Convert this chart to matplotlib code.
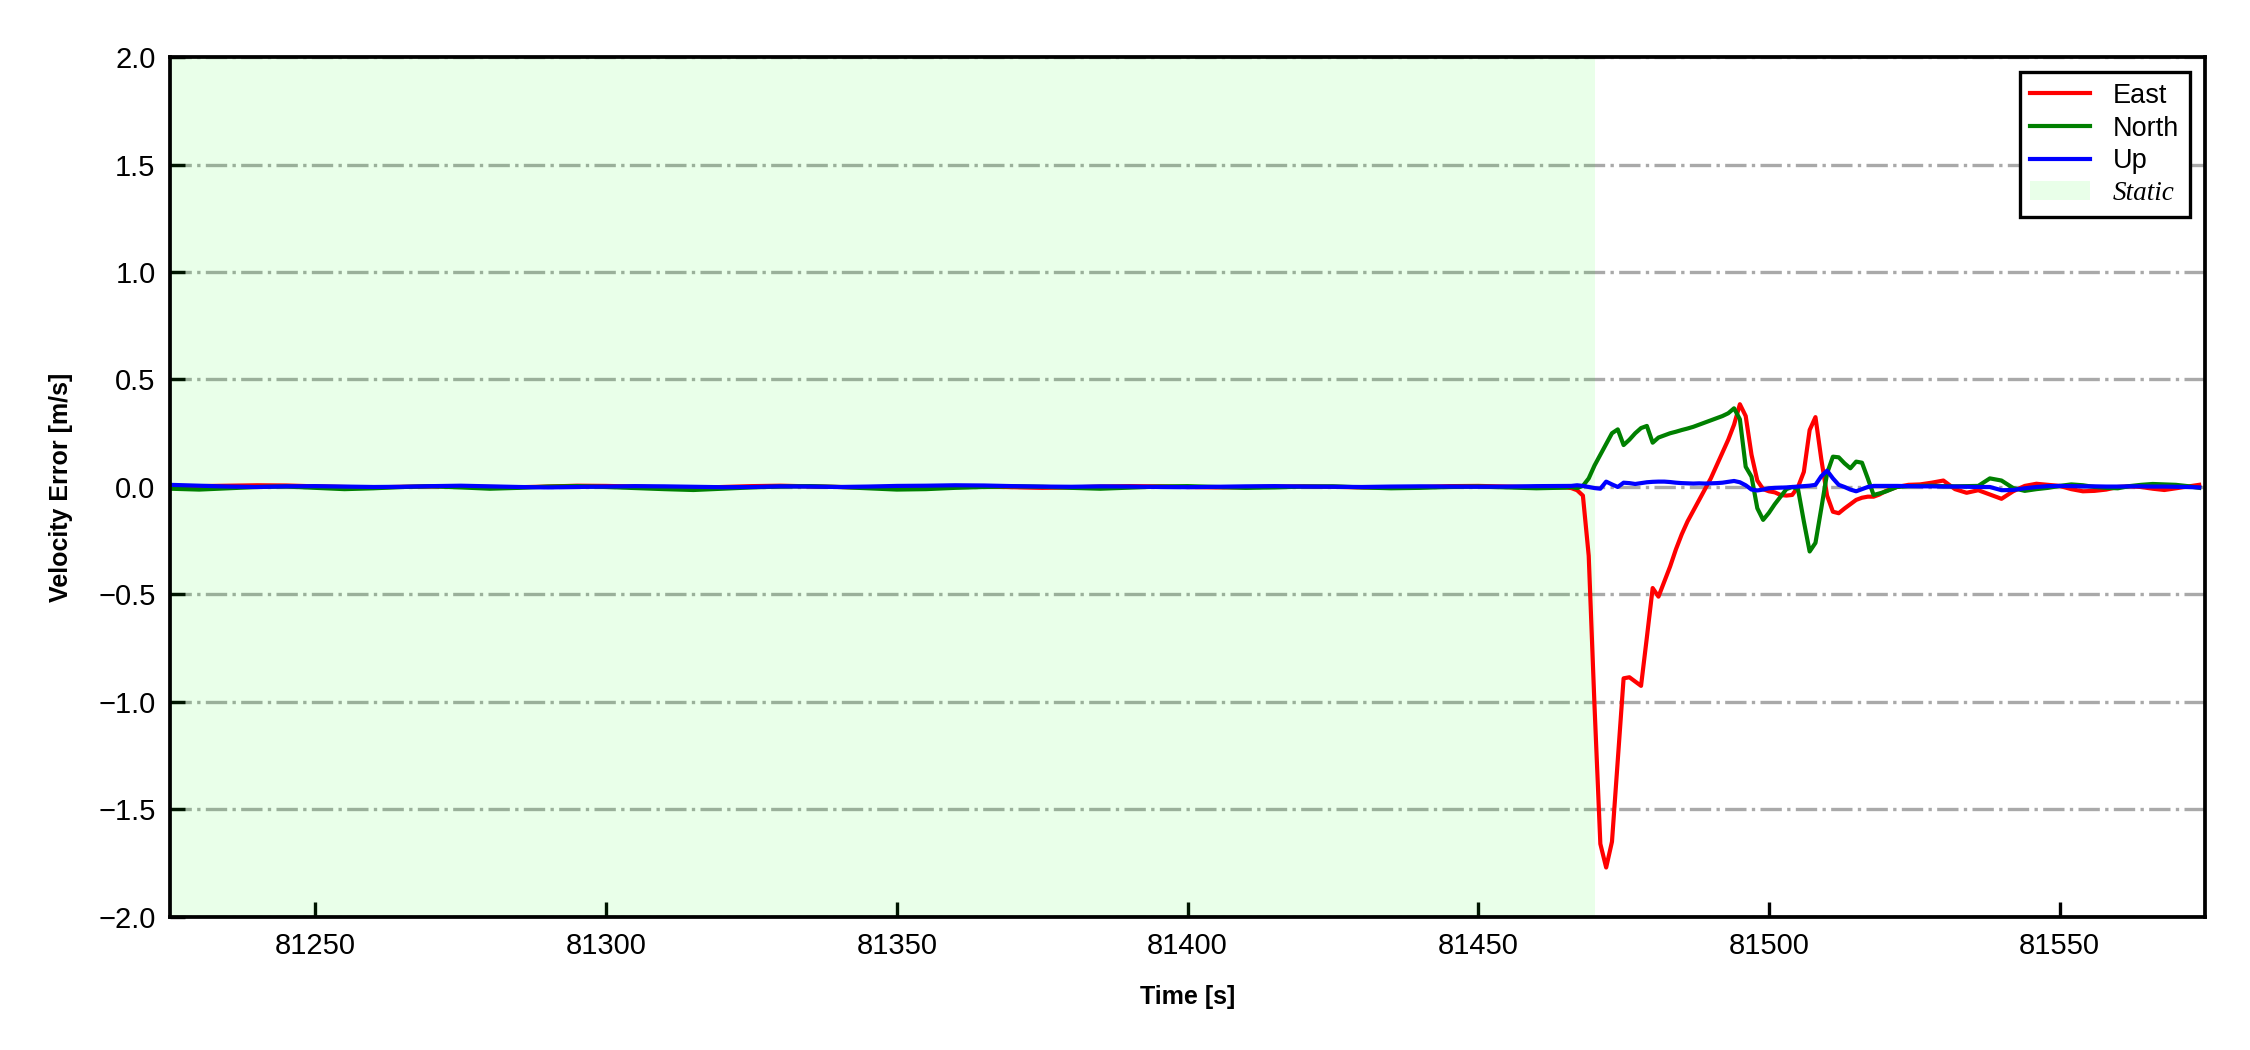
"""
Velocity error plot (East / North / Up) with static interval shading.
Output: out.png
"""

import numpy as np
import matplotlib
matplotlib.use("Agg")
import matplotlib.pyplot as plt

plt.rcParams["font.family"] = ["Liberation Sans", "DejaVu Sans"]

# sample times: static part every 5 s, manoeuvre every 1 s, tail every 2 s
t_static = list(range(81225, 81466, 5))
t_move = list(range(81466, 81521))
t_tail = list(range(81522, 81576, 2))
STATIC_END = 81470

east_static = [0.002, 0.004, 0.006, 0.008, 0.007, 0.003, 0.0,
               -0.002, 0.001, 0.003, 0.002, 0.0, -0.001, 0.002,
               0.006, 0.005, 0.002, -0.002, -0.004, 0.0, 0.004,
               0.006, 0.003, 0.0, -0.003, -0.002, 0.001, 0.003,
               0.002, -0.001, -0.004, -0.002, 0.002, 0.004, 0.003,
               0.0, -0.002, -0.001, 0.002, 0.003, 0.001, -0.002,
               -0.003, 0.0, 0.004, 0.005, 0.002, -0.001, -0.002]
north_static = [-0.008, -0.012, -0.006, 0.0, 0.002, -0.004, -0.010,
                -0.006, 0.0, 0.003, -0.002, -0.008, -0.004, 0.002,
                0.004, 0.0, -0.005, -0.010, -0.014, -0.008, -0.002,
                0.002, 0.004, 0.0, -0.006, -0.012, -0.010, -0.004,
                0.0, 0.003, 0.001, -0.004, -0.008, -0.003, 0.002,
                0.004, 0.0, -0.004, -0.002, 0.002, 0.003, -0.002,
                -0.006, -0.004, 0.0, 0.002, -0.002, -0.006, -0.003]
up_static = [0.010, 0.006, 0.002, 0.0, 0.003, 0.004, 0.002,
             0.0, 0.001, 0.004, 0.006, 0.003, 0.0, -0.002,
             0.0, 0.002, 0.004, 0.003, 0.001, -0.001, 0.0,
             0.003, 0.002, 0.0, 0.002, 0.005, 0.006, 0.008,
             0.007, 0.004, 0.002, 0.001, 0.003, 0.002, 0.0,
             -0.001, 0.001, 0.003, 0.004, 0.002, 0.001, 0.0,
             0.002, 0.003, 0.002, 0.001, 0.002, 0.004, 0.005]

east_move = [-0.005, -0.015, -0.04, -0.32, -1.02,
             -1.66, -1.77, -1.65, -1.27, -0.89,
             -0.885, -0.905, -0.925, -0.70, -0.47,
             -0.51, -0.44, -0.37, -0.29, -0.22,
             -0.16, -0.11, -0.06, -0.01, 0.04,
             0.10, 0.16, 0.22, 0.29, 0.385,
             0.33, 0.15, 0.03, -0.01, -0.02,
             -0.025, -0.037, -0.04, -0.037, 0.0,
             0.07, 0.265, 0.325, 0.13, -0.04,
             -0.115, -0.122, -0.10, -0.08, -0.06,
             -0.05, -0.045, -0.045, -0.035, -0.02]
north_move = [0.0, -0.005, 0.005, 0.04, 0.10,
              0.15, 0.20, 0.25, 0.268, 0.195,
              0.22, 0.25, 0.274, 0.284, 0.206,
              0.23, 0.24, 0.25, 0.257, 0.265,
              0.272, 0.28, 0.29, 0.30, 0.31,
              0.32, 0.33, 0.343, 0.366, 0.315,
              0.094, 0.048, -0.099, -0.153, -0.12,
              -0.08, -0.045, -0.01, 0.0, -0.01,
              -0.16, -0.30, -0.26, -0.10, 0.064,
              0.141, 0.138, 0.11, 0.087, 0.118,
              0.113, 0.04, -0.037, -0.03, -0.022]
up_move = [0.005, 0.008, 0.005, 0.0, -0.005,
           -0.008, 0.025, 0.012, 0.0, 0.02,
           0.018, 0.014, 0.018, 0.022, 0.024,
           0.025, 0.025, 0.023, 0.02, 0.018,
           0.017, 0.016, 0.017, 0.016, 0.017,
           0.018, 0.02, 0.024, 0.028, 0.022,
           0.008, -0.012, -0.016, -0.012, -0.006,
           -0.004, -0.003, -0.002, 0.0, 0.002,
           0.004, 0.006, 0.01, 0.05, 0.076,
           0.04, 0.01, 0.0, -0.012, -0.02,
           -0.01, 0.0, 0.005, 0.005, 0.005]

east_tail = [0.0, 0.01, 0.012, 0.02, 0.03, -0.01, -0.027, -0.015, -0.035,
             -0.055, -0.02, 0.005, 0.015, 0.01, 0.005, -0.01, -0.02, -0.018,
             -0.012, 0.0, 0.003, 0.0, -0.008, -0.014, -0.006, 0.002, 0.01]
north_tail = [0.0, 0.004, 0.005, 0.006, 0.004, 0.003, 0.004, 0.005, 0.04,
              0.03, -0.005, -0.018, -0.01, -0.004, 0.005, 0.012, 0.008, 0.0,
              -0.004, -0.006, 0.004, 0.01, 0.014, 0.012, 0.01, 0.004, -0.004]
up_tail = [0.005, 0.004, 0.003, 0.003, 0.002, 0.002, 0.001, 0.0, 0.0,
           -0.015, -0.014, -0.006, 0.0, 0.004, 0.005, 0.004, 0.003, 0.003,
           0.002, 0.002, 0.003, 0.003, 0.002, 0.002, 0.001, 0.0, -0.002]

y_ticks = [-2.0, -1.5, -1.0, -0.5, 0.0, 0.5, 1.0, 1.5, 2.0]
x_ticks = [81250, 81300, 81350, 81400, 81450, 81500, 81550]


def main() -> None:
    t = np.array(t_static + t_move + t_tail, dtype=float)
    east = np.array(east_static + east_move + east_tail)
    north = np.array(north_static + north_move + north_tail)
    up = np.array(up_static + up_move + up_tail)

    fig = plt.figure(figsize=(7.5, 3.5), dpi=300)
    ax = fig.add_axes([0.0756, 0.1267, 0.9044, 0.819])

    ax.axvspan(t[0], STATIC_END, color=(0.0, 1.0, 0.0), alpha=0.085, lw=0, label="Static")
    ax.plot(t, east, color="red", lw=1.0, label="East")
    ax.plot(t, north, color="green", lw=1.0, label="North")
    ax.plot(t, up, color="blue", lw=1.0, label="Up")

    ax.set_xlim(81225, 81575)
    ax.set_ylim(-2.0, 2.0)
    ax.set_yticks(y_ticks)
    ax.set_xticks(x_ticks)
    ax.yaxis.grid(True, linestyle="-.", color="darkgray", lw=0.8)
    ax.set_axisbelow(True)
    ax.tick_params(direction="in", labelsize=7, length=3.5, width=0.8)
    for s in ax.spines.values():
        s.set_linewidth(0.9)

    ax.set_xlabel("Time [s]", fontsize=6, fontweight="bold", labelpad=6)
    ax.set_ylabel("Velocity Error [m/s]", fontsize=6, fontweight="bold", labelpad=6)

    handles, labels = ax.get_legend_handles_labels()
    order = [1, 2, 3, 0]
    leg = ax.legend([handles[i] for i in order], [labels[i] for i in order],
                    loc="upper right", fontsize=6.5, fancybox=False, framealpha=1,
                    edgecolor="black", borderaxespad=0.55, handlelength=2.2,
                    labelspacing=0.25, handletextpad=0.85, borderpad=0.4)
    leg.get_frame().set_linewidth(0.8)
    static_txt = leg.get_texts()[3]
    static_txt.set_family(["Liberation Serif", "DejaVu Serif"])
    static_txt.set_style("italic")

    fig.savefig("out.png", dpi=300)
    plt.close(fig)


if __name__ == "__main__":
    main()
